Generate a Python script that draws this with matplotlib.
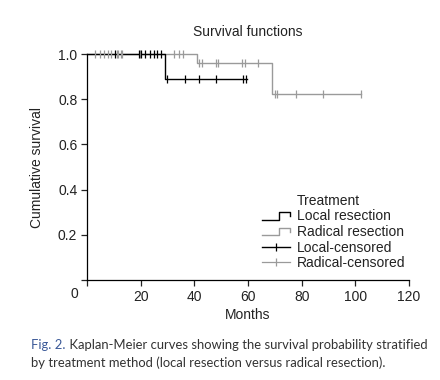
import numpy as np
import matplotlib
matplotlib.use("Agg")
import matplotlib.pyplot as plt
from matplotlib.lines import Line2D
from matplotlib.legend_handler import HandlerBase

# step curves (months, cumulative survival)
local_t = [0, 29.0, 59.8]
local_s = [1.0, 0.889, 0.889]
radical_t = [0, 40.9, 68.9, 102.2]
radical_s = [1.0, 0.960, 0.823, 0.823]

# censored times
local_cens = [10.5, 19.3, 20.2, 21.8, 23.3, 24.8, 26.0, 27.7,
              29.7, 36.7, 41.9, 48.2, 58.1, 59.1]
radical_cens = [2.8, 4.7, 6.3, 7.8, 8.9, 11.0, 11.6, 12.5, 13.0, 19.9,
                32.6, 34.2, 35.7, 41.9, 42.9, 48.2, 48.9, 57.8, 58.7, 63.7,
                69.9, 70.7, 78.0, 87.9, 102.2]

xticks = [0, 20, 40, 60, 80, 100, 120]
yticks = [0.2, 0.4, 0.6, 0.8, 1.0]

BLACK = "#000000"
GRAY = "#9a9a9a"
TXT = "#222222"
FS = 10
plt.rcParams["font.family"] = ["Liberation Sans", "DejaVu Sans"]


def surv_at(ts, ss, t):
    i = np.searchsorted(ts, t, side="right") - 1
    return ss[i]


class StepHandler(HandlerBase):
    def create_artists(self, legend, orig_handle, xdescent, ydescent,
                       width, height, fontsize, trans):
        xs = np.array([0, 0.6, 0.6, 1, 1]) * width - xdescent
        ys = np.array([0.05, 0.05, 0.85, 0.85, 0.4]) * height - ydescent
        ln = Line2D(xs, ys, color=orig_handle.get_color(),
                    lw=orig_handle.get_linewidth(), transform=trans)
        return [ln]


fig = plt.figure(figsize=(4.4, 3.8), dpi=100)
ax = fig.add_axes([87 / 440, 1 - 280 / 380, 322 / 440, 226 / 380])

# curves
rad_line, = ax.step(radical_t, radical_s, where="post", color=GRAY, lw=1.0, clip_on=False)
loc_line, = ax.step(local_t, local_s, where="post", color=BLACK, lw=1.0, clip_on=False)

rc_y = [surv_at(radical_t, radical_s, t) for t in radical_cens]
lc_y = [surv_at(local_t, local_s, t) for t in local_cens]
ax.plot(radical_cens, rc_y, ls="none", marker="|", ms=6, mew=0.9, color=GRAY, clip_on=False)
ax.plot(local_cens, lc_y, ls="none", marker="|", ms=6, mew=0.9, color=BLACK, clip_on=False)

ax.set_xlim(0, 120)
ax.set_ylim(0, 1.0)
ax.set_xticks(xticks)
ax.set_xticklabels([""] + [str(v) for v in xticks[1:]])
ax.set_yticks([0.0] + yticks)
ax.set_yticklabels([""] + ["%.1f" % v for v in yticks])
ax.tick_params(direction="out", length=4, width=0.9, labelsize=FS, colors=TXT, pad=3)
ax.tick_params(axis="x", labelcolor=TXT, pad=3)
ax.text(-0.04, -0.062, "0", transform=ax.transAxes, ha="center", va="center",
        fontsize=FS, color=TXT)

for s in ["top", "right"]:
    ax.spines[s].set_visible(False)
for s in ["left", "bottom"]:
    ax.spines[s].set_linewidth(0.9)

ax.set_xlabel("Months", fontsize=FS, color=TXT, labelpad=3)
ax.set_ylabel("Cumulative survival", fontsize=FS, color=TXT, labelpad=10)
ax.set_title("Survival functions", fontsize=FS, color=TXT, pad=13)

# legend
h_loc = Line2D([], [], color=BLACK, lw=1.0)
h_rad = Line2D([], [], color=GRAY, lw=1.0)
h_lc = Line2D([], [], color=BLACK, lw=1.0, marker="|", ms=6, mew=0.9)
h_rc = Line2D([], [], color=GRAY, lw=0.9, marker="|", ms=6, mew=0.9)
leg = ax.legend([h_loc, h_rad, h_lc, h_rc],
                ["Local resection", "Radical resection", "Local-censored", "Radical-censored"],
                handler_map={h_loc: StepHandler(), h_rad: StepHandler()},
                loc="upper left", bbox_to_anchor=(0.543, 0.313), frameon=False,
                fontsize=FS, handlelength=2.0, handletextpad=0.5,
                labelspacing=0.12, borderpad=0, borderaxespad=0)
for t in leg.get_texts():
    t.set_color(TXT)
ax.text(0.652, 0.350, "Treatment", transform=ax.transAxes, ha="left", va="center",
        fontsize=FS, color=TXT)

# caption
CFS = 9.4
cap1 = fig.text(31 / 440, 1 - 345 / 380, "Fig. 2.", fontsize=CFS, color="#3b5998",
                family=["Lato", "DejaVu Sans"], va="center", ha="left")
ax.annotate(" Kaplan-Meier curves showing the survival probability stratified",
            xy=(1, 0), xycoords=cap1, va="bottom", ha="left", fontsize=CFS,
            color="#333333", family=["Lato", "DejaVu Sans"], annotation_clip=False)
fig.text(31 / 440, 1 - 363 / 380,
         "by treatment method (local resection versus radical resection).",
         fontsize=CFS, color="#333333", family=["Lato", "DejaVu Sans"],
         va="center", ha="left")

fig.savefig("out.png", dpi=100)
